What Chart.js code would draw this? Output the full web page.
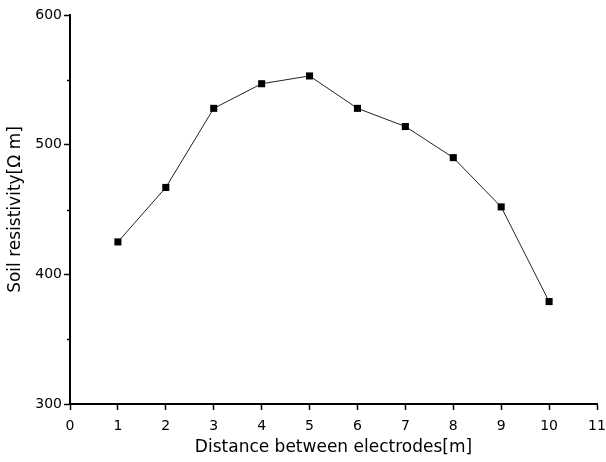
<!DOCTYPE html>
<html>
<head>
<meta charset="utf-8">
<title>Soil resistivity</title>
<script src="https://cdn.jsdelivr.net/npm/chart.js@4.4.1/dist/chart.umd.min.js"></script>
<style>
  html, body { margin: 0; padding: 0; background: #fff; }
  #wrap { width: 606px; height: 462px; position: relative; }
</style>
</head>
<body>
<div id="wrap"><canvas id="soilChart"></canvas></div>
<script>
// === DATA ===
const distances = [1, 2, 3, 4, 5, 6, 7, 8, 9, 10];
const resistivity = [425, 467, 528, 547, 553, 528, 514, 490, 452, 379];
const xTickValues = [0, 1, 2, 3, 4, 5, 6, 7, 8, 9, 10, 11];
const yTickValues = [300, 400, 500, 600];
const yMinorTicks = [350, 450, 550];

const FONT = "'DejaVu Sans', 'Liberation Sans', Arial, sans-serif";

// short minor ticks on the y axis
const minorTickPlugin = {
    id: 'minorTicks',
    afterDraw(chart) {
        const y = chart.scales.y;
        const ctx = chart.ctx;
        ctx.save();
        ctx.strokeStyle = '#000';
        ctx.lineWidth = 1.5;
        yMinorTicks.forEach(v => {
            const py = Math.round(y.getPixelForValue(v)) + 0.5;
            ctx.beginPath();
            ctx.moveTo(y.right - 3, py);
            ctx.lineTo(y.right, py);
            ctx.stroke();
        });
        ctx.restore();
    }
};

const ctx = document.getElementById('soilChart').getContext('2d');
new Chart(ctx, {
    type: 'line',
    data: {
        datasets: [{
            label: 'Soil resistivity',
            data: distances.map((d, i) => ({ x: d, y: resistivity[i] })),
            borderColor: '#222',
            borderWidth: 1,
            pointStyle: 'rect',
            pointRadius: 5,
            pointBackgroundColor: '#000',
            pointBorderColor: '#000',
            pointBorderWidth: 0,
            tension: 0,
            fill: false
        }]
    },
    plugins: [minorTickPlugin],
    options: {
        responsive: true,
        maintainAspectRatio: false,
        animation: false,
        layout: { padding: { top: 15, right: 9, left: 0, bottom: 0 } },
        plugins: { legend: { display: false }, tooltip: { enabled: false } },
        scales: {
            x: {
                type: 'linear',
                min: 0, max: 11,
                afterFit: s => { s.height = 58; s.paddingRight = 0; s.paddingLeft = 0; },
                afterBuildTicks: s => { s.ticks = xTickValues.map(v => ({ value: v })); },
                border: { display: true, color: '#000', width: 2 },
                grid: { display: true, drawOnChartArea: false, drawTicks: true, tickLength: 6, tickWidth: 1.5, tickColor: '#000' },
                ticks: { color: '#000', padding: 8, maxRotation: 0, font: { family: FONT, size: 14 } },
                title: {
                    display: true, text: 'Distance between electrodes[m]', color: '#000',
                    font: { family: FONT, size: 17 }, padding: { top: 0, bottom: 4 }
                }
            },
            y: {
                min: 300, max: 600,
                afterFit: s => { s.width = 70; s.paddingTop = 0; s.paddingBottom = 0; },
                afterBuildTicks: s => { s.ticks = yTickValues.map(v => ({ value: v })); },
                border: { display: true, color: '#000', width: 2 },
                grid: { display: true, drawOnChartArea: false, drawTicks: true, tickLength: 6, tickWidth: 1.5, tickColor: '#000' },
                ticks: { color: '#000', padding: 2, font: { family: FONT, size: 14 } },
                title: {
                    display: true, text: 'Soil resistivity[\u03A9 m]', color: '#000',
                    font: { family: FONT, size: 17 }, padding: { top: 5, bottom: 0 }
                }
            }
        }
    }
});
</script>
</body>
</html>
